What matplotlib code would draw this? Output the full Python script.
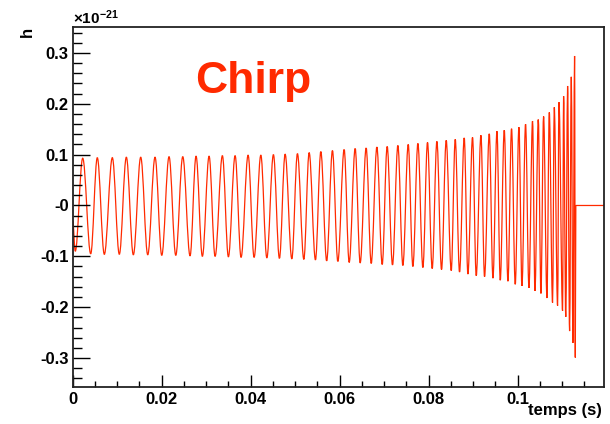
import numpy as np
import matplotlib
matplotlib.use('Agg')
import matplotlib.pyplot as plt
from matplotlib.path import Path
from matplotlib.patches import PathPatch
from matplotlib.ticker import MultipleLocator, FixedLocator, FixedFormatter

plt.rcParams['font.family'] = ['Liberation Sans', 'DejaVu Sans']
plt.rcParams['font.weight'] = 'bold'
plt.rcParams['mathtext.fontset'] = 'custom'
plt.rcParams['mathtext.rm'] = 'Liberation Sans'
plt.rcParams['mathtext.bf'] = 'Liberation Sans:bold'

# waveform extrema (time in s, strain in units of 1e-21)
peak_t = [0.00225, 0.00553, 0.00891, 0.01206, 0.01529, 0.01851, 0.02166, 0.02474,
          0.02773, 0.03066, 0.03365, 0.03651, 0.03943, 0.04229, 0.04512, 0.04775,
          0.05052, 0.05315, 0.05578, 0.05839, 0.06102, 0.06350, 0.06597, 0.06838,
          0.07069, 0.07310, 0.07542, 0.07760, 0.07976, 0.08187, 0.08396, 0.08599,
          0.08801, 0.08988, 0.09177, 0.09364, 0.09537, 0.09701, 0.09865, 0.10031,
          0.10180, 0.10337, 0.10466, 0.10585, 0.10713, 0.10825, 0.10931, 0.11035,
          0.11125, 0.11208, 0.11282]
peak_h = [0.093, 0.094, 0.094, 0.095, 0.095, 0.095, 0.096, 0.096,
          0.097, 0.097, 0.098, 0.098, 0.099, 0.099, 0.100, 0.101,
          0.102, 0.104, 0.106, 0.108, 0.110, 0.112, 0.113, 0.115,
          0.116, 0.118, 0.120, 0.122, 0.124, 0.126, 0.128, 0.130,
          0.133, 0.134, 0.138, 0.141, 0.146, 0.148, 0.151, 0.154,
          0.160, 0.166, 0.169, 0.175, 0.183, 0.193, 0.203, 0.215,
          0.235, 0.253, 0.294]

trough_t = [0.00058, 0.00405, 0.00711, 0.01048, 0.01363, 0.01687, 0.02002, 0.02317,
            0.02638, 0.02915, 0.03201, 0.03500, 0.03785, 0.04078, 0.04364, 0.04647,
            0.04926, 0.05196, 0.05457, 0.05709, 0.05960, 0.06215, 0.06462, 0.06710,
            0.06957, 0.07189, 0.07422, 0.07647, 0.07872, 0.08081, 0.08291, 0.08509,
            0.08696, 0.08884, 0.09071, 0.09258, 0.09447, 0.09611, 0.09784, 0.09948,
            0.10099, 0.10256, 0.10391, 0.10526, 0.10661, 0.10787, 0.10900, 0.11012,
            0.11084, 0.11170, 0.11246, 0.11298]
trough_h = [-0.090, -0.095, -0.096, -0.096, -0.097, -0.097, -0.098, -0.098,
            -0.099, -0.100, -0.100, -0.101, -0.102, -0.102, -0.103, -0.104,
            -0.105, -0.106, -0.107, -0.109, -0.110, -0.112, -0.113, -0.114,
            -0.116, -0.117, -0.118, -0.120, -0.122, -0.124, -0.126, -0.128,
            -0.131, -0.135, -0.138, -0.140, -0.143, -0.147, -0.149, -0.155,
            -0.158, -0.162, -0.168, -0.173, -0.182, -0.191, -0.197, -0.207,
            -0.219, -0.247, -0.270, -0.299]

# start of the record and flat tail after the merger
head_t, head_h = [0.0], [-0.03]
tail_t, tail_h = [0.1131, 0.1195], [0.0, 0.0]

x_ticks = [0, 0.02, 0.04, 0.06, 0.08, 0.1]
x_labels = ['0', '0.02', '0.04', '0.06', '0.08', '0.1']
y_ticks = [-0.3, -0.2, -0.1, 0.0, 0.1, 0.2, 0.3]
y_labels = ['-0.3', '-0.2', '-0.1', '-0', '0.1', '0.2', '0.3']

t = np.concatenate([head_t, peak_t, trough_t, tail_t])
h = np.concatenate([head_h, peak_h, trough_h, tail_h])
order = np.argsort(t, kind='stable')
t, h = t[order], h[order]

# half-cycles between extrema drawn as cubic Beziers with flat tangents
K = 0.3634
verts = [(t[0], h[0])]
codes = [Path.MOVETO]
for i in range(1, len(t)):
    dt = t[i] - t[i - 1]
    verts += [(t[i - 1] + K * dt, h[i - 1]), (t[i] - K * dt, h[i]), (t[i], h[i])]
    codes += [Path.CURVE4] * 3

W, H = 610, 424
fig = plt.figure(figsize=(W / 100, H / 100), dpi=100)
ax = fig.add_axes([72.7 / W, 1 - 386.5 / H, (604.3 - 72.7) / W, (386.5 - 27) / H])

ax.add_patch(PathPatch(Path(verts, codes), facecolor='none', edgecolor='#ff2a00',
                       lw=0.9))

ax.set_xlim(0, 0.1195)
ax.set_ylim(-0.356, 0.351)

ax.xaxis.set_major_locator(FixedLocator(x_ticks))
ax.xaxis.set_major_formatter(FixedFormatter(x_labels))
ax.xaxis.set_minor_locator(MultipleLocator(0.005))
ax.yaxis.set_major_locator(FixedLocator(y_ticks))
ax.yaxis.set_major_formatter(FixedFormatter(y_labels))
ax.yaxis.set_minor_locator(MultipleLocator(0.02))

ax.tick_params(axis='x', which='major', direction='in', length=9, width=1, pad=4,
               labelsize=12)
ax.tick_params(axis='x', which='minor', direction='in', length=4.5, width=1)
ax.tick_params(axis='y', which='major', direction='in', length=12, width=1, pad=3,
               labelsize=12)
ax.tick_params(axis='y', which='minor', direction='in', length=6.5, width=1)
for lab in ax.get_xticklabels() + ax.get_yticklabels():
    lab.set_fontweight('bold')
for s in ax.spines.values():
    s.set_linewidth(1.3)
    s.set_color('#222222')

fig.text(602 / W, 1 - 411 / H, 'temps (s)', ha='right', va='center',
         fontsize=12, fontweight='bold')
fig.text(27 / W, 1 - 32 / H, 'h', ha='center', va='center', rotation=90,
         fontsize=12, fontweight='bold')
fig.text(73 / W, 1 - 24 / H, r'$\times\mathbf{10^{-21}}$', ha='left', va='baseline',
         fontsize=11)
fig.text(195 / W, 1 - 93 / H, 'Chirp', ha='left', va='baseline', color='#ff2a00',
         fontsize=32, fontweight='bold')

fig.savefig('out.png', dpi=100, facecolor='white')
